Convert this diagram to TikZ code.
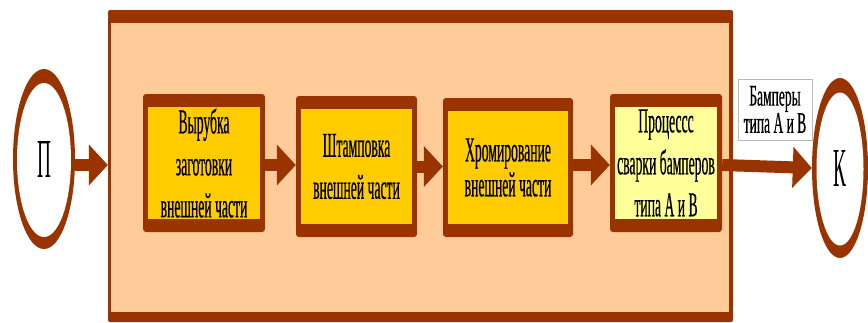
\documentclass[tikz,border=0pt]{standalone}
\usepackage{fontspec}
\setmainfont{Liberation Serif}
\newfontfamily\boxfont[FakeStretch=0.39,FakeBold=0.4]{Liberation Serif}
\newfontfamily\lblfont[FakeStretch=0.45,FakeBold=0.4]{Liberation Serif}
\newfontfamily\ringfont[FakeStretch=0.35]{Liberation Serif}
\usetikzlibrary{arrows.meta,calc,shapes.geometric}
\definecolor{brn}{HTML}{993300}
\definecolor{peach}{HTML}{FFCC99}
\definecolor{gold}{HTML}{FFCC00}
\definecolor{paley}{HTML}{FFFF99}
\tikzset{
  bigframe/.style={rectangle, fill=brn, rounded corners=2pt, inner sep=0pt,
    minimum width=625pt, minimum height=312pt,
    path picture={\fill[peach, sharp corners]
      ($(path picture bounding box.north west)+(3pt,-13pt)$) rectangle
      ($(path picture bounding box.south east)+(-4pt,10pt)$);}},
  stepbox/.style={rectangle, fill=brn, rounded corners=3pt, inner sep=0pt,
    align=center, font=\boxfont\fontsize{35}{42}\selectfont,
    path picture={\fill[#1, sharp corners]
      ($(path picture bounding box.north west)+(5pt,-13pt)$) rectangle
      ($(path picture bounding box.south east)+(-5pt,13pt)$);}},
  ring/.style n args={4}{ellipse, fill=brn, inner sep=0pt,
    minimum width=#1, minimum height=#2,
    font=\ringfont\fontsize{55}{60}\selectfont,
    path picture={\fill[white]
      ($(path picture bounding box.center)+(0pt,-1pt)$)
      ellipse [x radius=#3, y radius=#4];}},
  lbl/.style={rectangle, draw=gray!55, line width=0.8pt, fill=white, inner sep=0pt,
    minimum width=74pt, minimum height=61pt, align=center,
    font=\lblfont\fontsize{30}{25}\selectfont},
  flow/.style={draw=brn, line width=12pt, -{Triangle[width=40pt,length=19pt]}}
}
\begin{document}
\begin{tikzpicture}[x=1pt,y=-1pt]
\useasboundingbox (0,0) rectangle (868,322);
\node[bigframe] (big) at (420.5,166) {};
\node[ring={62pt}{180pt}{27pt}{77pt}] (P) at (44,159) {П};
\node[ring={56pt}{180pt}{23.5pt}{76.5pt}] (K) at (840,168) {К};
\node[stepbox=gold, minimum width=122pt, minimum height=138pt] (b1) at (204,163)
  {Вырубка\\заготовки\\внешней части};
\node[stepbox=gold, minimum width=121pt, minimum height=141pt] (b2) at (356.5,166.5)
  {Штамповка\\внешней части};
\node[stepbox=gold, minimum width=130pt, minimum height=139pt] (b3) at (508,167.5)
  {Хромирование\\[-7pt]внешней части};
\node[stepbox=paley, minimum width=112pt, minimum height=138pt] (b4) at (666,163)
  {Процессс\\сварки бамперов\\типа А и В};
\node[lbl] (lb) at (775,109.5) {Бамперы\\типа А и В};
\draw[flow] ([yshift=-6pt]P.east) -- ([yshift=-6pt]P.east -| big.west);
\draw[flow] ([yshift=-2pt]b1.east) -- ([yshift=-2pt]b1.east -| b2.west);
\draw[flow] (b2.east) -- (b2.east -| b3.west);
\draw[flow] ([yshift=-2pt]b4.west -| b3.east) -- ([yshift=-2pt]b4.west);
\draw[flow] ([yshift=-2pt]b4.east) -- (K.west);
\end{tikzpicture}
\end{document}
